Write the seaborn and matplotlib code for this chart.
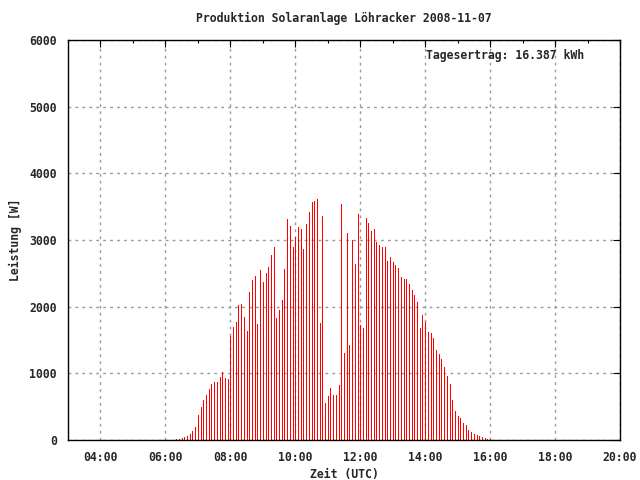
import matplotlib
matplotlib.use("Agg")
import matplotlib.pyplot as plt
import matplotlib.ticker as mticker
import numpy as np
import pandas as pd
import seaborn as sns

# 5-minute samples of the inverter power, 06:20 .. 16:00 UTC
start_time = "06:20"
power_w = [
    15, 20, 30, 45, 60, 95, 140, 195, 380, 495, 600, 680, 770, 840, 870, 870, 950, 1020,
    930, 915, 1560, 1690, 1770, 2025, 2040, 1845, 1635, 2220, 2400, 2460, 1740, 2550,
    2370, 2505, 2595, 2780, 2900, 1830, 1950,
    2100, 2565, 3315, 3210, 2895, 3045, 3195, 3165, 2865, 3240, 3420, 3570, 3585, 3615,
    1755, 3360,
    555, 660, 780, 675, 675, 825, 3540, 1305, 3105, 1425, 3000, 2640, 3390, 1725, 1680,
    3330, 3255,
    3135, 3165, 2970, 2925, 2895, 2895, 2685, 2745, 2670, 2625, 2580, 2445, 2415, 2415,
    2340, 2250, 2175,
    2070, 1680, 1875, 1770, 1620, 1605, 1530, 1350, 1290, 1215, 1095, 960, 840, 600, 435, 360,
    330, 255, 225, 150, 120, 90, 75, 60, 45, 30, 15, 15,
]
title = "Produktion Solaranlage Löhracker 2008-11-07"
daily_yield = "Tagesertrag: 16.387 kWh"

times = pd.date_range("2008-11-07 " + start_time, periods=len(power_w), freq="5min")
df = pd.DataFrame({"time": times, "power": power_w})
df["hour"] = df["time"].dt.hour + df["time"].dt.minute / 60.0

sns.set_style("white")
plt.rcParams["font.family"] = ["DejaVu Sans Mono"]
plt.rcParams["font.weight"] = "bold"
fs = 8.3

fig = plt.figure(figsize=(6.4, 4.8), dpi=100)
ax = fig.add_axes([68 / 640, 40 / 480, 552 / 640, 400 / 480])

ax.vlines(df["hour"], 0, df["power"], colors="#ff0000", linewidth=0.72, antialiased=False, zorder=3)

ax.set_xlim(3, 20)
ax.set_ylim(0, 6000)
ax.xaxis.set_major_locator(mticker.MultipleLocator(2))
ax.xaxis.set_minor_locator(mticker.MultipleLocator(1))
ax.xaxis.set_major_formatter(mticker.FuncFormatter(lambda v, p: "%02d:00" % int(round(v))))
ax.yaxis.set_major_locator(mticker.MultipleLocator(1000))

ax.grid(True, which="major", color="#999999", linestyle=(0, (2, 3)), linewidth=1.0, zorder=1)
ax.tick_params(which="both", direction="in", top=True, right=True, color="black",
               labelsize=fs, width=0.8)
ax.tick_params(which="major", length=5, pad=8)
ax.tick_params(which="minor", length=2.5)
for lab in ax.get_xticklabels() + ax.get_yticklabels():
    lab.set_fontweight("bold")
for s in ax.spines.values():
    s.set_color("black")
    s.set_linewidth(1.0)
    s.set_zorder(4)

ax.set_xlabel("Zeit (UTC)", fontsize=fs, fontweight="bold", labelpad=2.5)
ax.set_ylabel("Leistung [W]", fontsize=fs, fontweight="bold", labelpad=5)
ax.set_title(title, fontsize=fs, fontweight="bold", pad=13)
ax.text(0.6486, 0.96, daily_yield, transform=ax.transAxes, fontsize=fs,
        fontweight="bold", ha="left", va="center")

fig.savefig("out.png", dpi=100)
